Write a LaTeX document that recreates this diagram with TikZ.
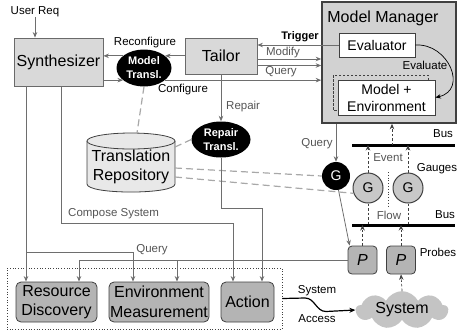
\documentclass[tikz,border=0pt]{standalone}
\usepackage{fontspec}
\setmainfont{Liberation Sans}
\usetikzlibrary{arrows.meta,shapes.geometric,shapes.symbols,calc}

\definecolor{lnc}{HTML}{6E6E6E}
\definecolor{boxfill}{HTML}{D9D9D9}
\definecolor{boxedge}{HTML}{6A6A6A}
\definecolor{mmfill}{HTML}{D2D2D2}
\definecolor{darkedge}{HTML}{404040}
\definecolor{actfill}{HTML}{B4B4B4}
\definecolor{gaugefill}{HTML}{C8C8C8}
\definecolor{cloudfill}{HTML}{C4C4C4}
\definecolor{repofill}{HTML}{E8E8E8}
\definecolor{dashgray}{HTML}{A8A8A8}
\definecolor{lblgray}{HTML}{555555}

\begin{document}
\begin{tikzpicture}[x=1pt,y=-1pt,
  every node/.style={font=\fontsize{11.5}{13}\selectfont, inner sep=0pt},
  tip/.style={-{Stealth[length=5.5pt,width=4.5pt]}},
  arr/.style={draw=lnc, line width=0.8pt, tip},
  graybox/.style={draw=boxedge, fill=boxfill, line width=0.8pt, font=\fontsize{16}{19}\selectfont},
  whitebox/.style={draw=darkedge, fill=white, line width=0.8pt, align=center, font=\fontsize{14}{17}\selectfont},
  actbox/.style={draw=darkedge, fill=actfill, rounded corners=5pt, line width=0.8pt, align=center, font=\fontsize{16}{19.5}\selectfont},
  blob/.style={ellipse, fill=black, text=white, align=center, font=\bfseries\fontsize{11}{14}\selectfont},
  gauge/.style={circle, draw=darkedge, fill=gaugefill, line width=1pt, minimum size=30pt, font=\fontsize{14}{16}\selectfont},
  probe/.style={draw=darkedge, fill=actfill, rounded corners=4pt, line width=0.8pt, minimum width=29pt, minimum height=28pt, font=\itshape\fontsize{16}{18}\selectfont},
  lbl/.style={text=lblgray},
  dlbl/.style={text=black},
  repoline/.style={draw=dashgray, line width=1.2pt, dash pattern=on 7pt off 4pt},
  evline/.style={draw=darkedge, line width=0.7pt, dash pattern=on 2.5pt off 2pt},
  busline/.style={draw=black, line width=3pt},
  access/.style={draw=black, line width=1.2pt, -{Stealth[length=6pt,width=5pt]}}
]
\useasboundingbox (0,0) rectangle (458,333);

% ---------- main boxes ----------
\node[graybox, minimum width=89pt, minimum height=48pt] (synth) at (58.5,62) {Synthesizer};
\node[graybox, minimum width=72pt, minimum height=36pt] (tailor) at (221,56) {Tailor};
\node[blob, minimum width=55pt, minimum height=37pt] (mt) at (144,68) {Model\\Transl.};
\node[blob, minimum width=59pt, minimum height=36pt] (rt) at (221,139.5) {Repair\\Transl.};
\node (userreq) at (35,12) {User Req};

% ---------- model manager ----------
\node[draw=darkedge, fill=mmfill, line width=1.6pt, minimum width=134pt, minimum height=121pt] (mm) at (389,62.5) {};
\node[font=\fontsize{16}{19}\selectfont] (mmlab) at (383,18) {Model Manager};
\node[whitebox, minimum width=76pt, minimum height=24pt] (eval) at (377,45) {Evaluator};
\draw[darkedge, line width=0.7pt, dash pattern=on 2.5pt off 1.5pt] (333,75) rectangle (428,110);
\node[whitebox, minimum width=97pt, minimum height=35pt] (menv) at (386.5,97.5) {Model +\\Environment};

% ---------- translation repository ----------
\fill[repofill] (87,141) -- (87,184) .. controls (87,194.7) and (175,194.7) .. (175,184) -- (175,141) -- cycle;
\draw[darkedge, line width=0.8pt] (87,141) -- (87,184) .. controls (87,194.7) and (175,194.7) .. (175,184) -- (175,141);
\draw[darkedge, line width=0.8pt, fill=repofill] (131,141) ellipse [x radius=44, y radius=8];
\node[align=center, font=\fontsize{16}{19}\selectfont] (repo) at (131,167) {Translation\\Repository};
\coordinate (repoT) at (137,133);
\coordinate (repoA) at (175,147);
\coordinate (repoB) at (175,168);
\coordinate (repoC) at (175,177);

% ---------- gauges, buses, probes ----------
\node[circle, fill=black, text=white, minimum size=28pt, font=\fontsize{14}{16}\selectfont] (g0) at (336,176) {G};
\node[gauge] (g1) at (368,188) {G};
\node[gauge] (g2) at (408,188) {G};
\node[probe] (p1) at (362.5,260) {P};
\node[probe] (p2) at (401,260) {P};
\node[cloud, cloud puffs=9, cloud puff arc=125, aspect=3.2, fill=cloudfill, minimum width=92pt, minimum height=30pt, font=\fontsize{16}{19}\selectfont] (sys) at (402,310) {System};

\coordinate (ubL) at (352,145);
\coordinate (ubR) at (455,145);
\coordinate (lbL) at (352,225);
\coordinate (lbR) at (455,225);
\coordinate (ubm) at (392,145);
\draw[busline] (ubL) -- (ubR);
\draw[busline] (lbL) -- (lbR);

% ---------- effector group ----------
\node[draw=darkedge, dotted, line width=0.7pt, minimum width=275pt, minimum height=61pt] (grp) at (144.5,298.5) {};
\node[actbox, minimum width=81pt, minimum height=40pt] (rd) at (56.5,302) {Resource\\Discovery};
\node[actbox, minimum width=100pt, minimum height=40pt] (em) at (159,302) {Environment\\Measurement};
\node[actbox, minimum width=53pt, minimum height=40pt] (act) at (247.5,302) {Action};

% ---------- repository links ----------
\draw[repoline] (mt.south) -- (repoT);
\draw[repoline] (repoA) -- (rt.west);
\draw[repoline] (repoB) -- (g0.west);
\draw[repoline] (repoC) -- (g1.200);

% ---------- connectors ----------
\draw[arr] (userreq.south) -- (userreq |- synth.north);
\draw[arr] (tailor.west |- mt.30) -- (mt.30);
\draw[arr] (mt.150) -- (mt.150 -| synth.east);
\draw[arr] (mt.210 -| synth.east) -- (mt.210);
\draw[arr] (mt.-30) -- (mt.-30 -| mm.west);
\draw[arr] (eval.west) -- (eval.west -| tailor.east);
\draw[arr] (tailor.east |- 0,59) -- (mm.west |- 0,59);
\draw[arr] (tailor.east |- 0,65.5) -- (mm.west |- 0,65.5);
\draw[arr] (tailor.south) -- (rt.north);
\draw[draw=black, line width=0.7pt, tip] (eval.east) .. controls +(33,-2) and +(33,-7.5) .. (menv.east);

\coordinate (s1) at ($(synth.south)+(-32.5,0)$);
\coordinate (s2) at ($(synth.south)+(2.5,0)$);
\coordinate (rdA) at ($(rd.north)+(-30.5,0)$);
\coordinate (rdB) at ($(rd.north)+(22.5,0)$);
\coordinate (emA) at ($(em.north)+(-26,0)$);
\coordinate (emB) at ($(em.north)+(18,0)$);
\coordinate (actA) at ($(act.north)+(-14.5,0)$);
\coordinate (actB) at ($(act.north)+(14.5,0)$);

\draw[arr] (s1) -- (rdA);
\draw[arr] (s1 |- 0,252) -| (emA);
\draw[arr] (s2) -- (s2 |- 0,223) -| (actA);
\draw[arr] (rt.south) -- (rt.south |- 0,208) -| (actB);
\draw[arr] (p1.west) -| (rdB);
\draw[arr] (emB |- p1.west) -- (emB);

\draw[arr] (g0 |- mm.south) -- (g0.north);
\draw[arr] (g0.-80) -- ($(p1.north west)+(2,0)$);

% ---------- event / flow ----------
\draw[evline, tip] (ubm) -- (ubm |- mm.south);
\draw[evline, tip] (g1.north) -- (g1.north |- ubL);
\draw[evline, tip] (g2.north) -- (g2.north |- ubL);
\draw[evline] (g1.south) -- (g1.south |- lbL);
\draw[evline] (g2.south) -- (g2.south |- lbL);
\coordinate (dv1) at (388,172);
\coordinate (dv2) at (388,206);
\draw[darkedge, line width=0.8pt, dotted] (dv1) -- (dv2);
\draw[evline, tip] (p1.north) -- (p1.north |- lbL);
\draw[evline, tip] (p2.north) -- (p2.north |- lbL);
\draw[evline, tip] (sys.north) -- (p2.south);

% ---------- system access ----------
\coordinate (acc1) at (305,298);
\coordinate (acc2) at (326,311.5);
\draw[access] (grp.east) -- (acc1) .. controls +(10,0) and +(-10,0) .. (acc2) -- (sys.west);

% ---------- labels ----------
\node[dlbl] at (145,43) {Reconfigure};
\node[dlbl] at (183,90) {Configure};
\node[dlbl, font=\bfseries\fontsize{11}{13}\selectfont] at (300,37) {Trigger};
\node[lbl] at (283,53) {Modify};
\node[lbl] at (281,72) {Query};
\node[lbl, anchor=west] at (226,107) {Repair};
\node[lbl] at (317,144) {Query};
\node[dlbl] at (425,65) {Evaluate};
\node[dlbl] at (443,134) {Bus};
\node[lbl] at (388,158) {Event};
\node[dlbl] at (437,169) {Gauges};
\node[lbl] at (389,215) {Flow};
\node[dlbl] at (445,215) {Bus};
\node[dlbl] at (438,252) {Probes};
\node[lbl, anchor=west] at (68,214) {Compose System};
\node[lbl] at (152,250) {Query};
\node[dlbl] at (317,291) {System};
\node[dlbl] at (317,319) {Access};
\end{tikzpicture}
\end{document}
